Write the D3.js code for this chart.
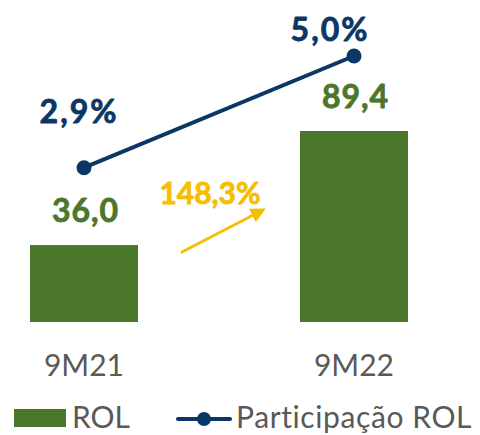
<!DOCTYPE html>
<html>
<head>
<meta charset="utf-8">
<script src="https://cdn.jsdelivr.net/npm/d3@7"></script>
<style>
  body { margin: 0; background: #fff; }
  svg { display: block; }
  text { font-family: Lato, "Open Sans", sans-serif; }
</style>
</head>
<body>
<svg id="chart" width="480" height="435"></svg>
<script>
// data
var categories = ["9M21", "9M22"];
var rol = [36.0, 89.4];
var participacao = [2.9, 5.0];
var growth = "148,3%";
var legendLabels = ["ROL", "Participação ROL"];

var green = "#4a772b", navy = "#0b3766", yellow = "#f5be00", grey = "#595959";

var ptBR = d3.formatLocale({decimal: ",", thousands: ".", grouping: [3], currency: ["R$", ""]});
var fmt = ptBR.format(".1f");

var svg = d3.select("#chart");

var x = d3.scalePoint().domain(categories).range([84, 354]);
var y = d3.scaleLinear().domain([0, 89.4]).range([322, 131]);
var y2 = d3.scaleLinear().domain([0, 5]).range([322, 56]);
var barW = 108;

var rows = categories.map(function (c, i) {
    return {cat: c, rol: rol[i], pct: participacao[i]};
});

// bold labels look heavier in the original, a thin stroke helps
function heavy(sel, col) {
    sel.attr("font-weight", 700)
        .attr("fill", col)
        .attr("stroke", col)
        .attr("stroke-width", 0.8)
        .attr("stroke-linejoin", "round");
}

// bars
svg.selectAll("rect.bar")
    .data(rows)
    .enter().append("rect")
    .attr("class", "bar")
    .attr("x", function (d) { return x(d.cat) - barW / 2; })
    .attr("y", function (d) { return y(d.rol); })
    .attr("width", barW)
    .attr("height", function (d) { return y(0) - y(d.rol); })
    .attr("fill", green);

// bar values
svg.selectAll("text.val")
    .data(rows)
    .enter().append("text")
    .attr("class", "val")
    .attr("x", function (d) { return x(d.cat) + 1.5; })
    .attr("y", function (d) { return y(d.rol) - 23; })
    .attr("text-anchor", "middle")
    .attr("font-size", 32)
    .attr("letter-spacing", 1)
    .text(function (d) { return fmt(d.rol); })
    .call(heavy, green);

// line
var line = d3.line()
    .x(function (d) { return x(d.cat); })
    .y(function (d) { return y2(d.pct); });

svg.append("path")
    .datum(rows)
    .attr("d", line)
    .attr("fill", "none")
    .attr("stroke", navy)
    .attr("stroke-width", 4);

svg.selectAll("circle.pt")
    .data(rows)
    .enter().append("circle")
    .attr("class", "pt")
    .attr("cx", function (d) { return x(d.cat); })
    .attr("cy", function (d) { return y2(d.pct); })
    .attr("r", 7.5)
    .attr("fill", navy);

// percent labels, nudged like the original
var pctDx = [-5, -24], pctDy = [-45, -15];
svg.selectAll("text.pct")
    .data(rows)
    .enter().append("text")
    .attr("class", "pct")
    .attr("x", function (d, i) { return x(d.cat) + pctDx[i]; })
    .attr("y", function (d, i) { return y2(d.pct) + pctDy[i]; })
    .attr("text-anchor", "middle")
    .attr("font-size", 32)
    .attr("letter-spacing", 2)
    .text(function (d) { return fmt(d.pct) + "%"; })
    .call(heavy, navy);

// growth arrow
var mid = (x(categories[0]) + x(categories[1])) / 2;
svg.append("defs").append("marker")
    .attr("id", "head")
    .attr("viewBox", "0 0 10 10")
    .attr("refX", 8).attr("refY", 5)
    .attr("markerWidth", 5).attr("markerHeight", 5)
    .attr("orient", "auto")
    .append("path")
    .attr("d", "M0,0L10,5L0,10Z")
    .attr("fill", yellow);

svg.append("line")
    .attr("x1", mid - 37).attr("y1", 252)
    .attr("x2", mid + 44).attr("y2", 210)
    .attr("stroke", yellow)
    .attr("stroke-width", 3)
    .attr("stroke-linecap", "round")
    .attr("marker-end", "url(#head)");

svg.append("text")
    .attr("x", mid - 9)
    .attr("y", 204)
    .attr("text-anchor", "middle")
    .attr("font-size", 30)
    .text(growth)
    .call(heavy, yellow);

// category labels
svg.selectAll("text.cat")
    .data(categories)
    .enter().append("text")
    .attr("class", "cat")
    .attr("x", function (d) { return x(d); })
    .attr("y", 376)
    .attr("text-anchor", "middle")
    .attr("font-size", 30)
    .attr("fill", grey)
    .text(function (d) { return d; });

// legend
var lg = svg.append("g");
lg.append("rect")
    .attr("x", 14).attr("y", 409)
    .attr("width", 52).attr("height", 18)
    .attr("fill", green);
lg.append("text")
    .attr("x", 72).attr("y", 428)
    .attr("font-size", 30)
    .attr("fill", grey)
    .text(legendLabels[0]);
lg.append("line")
    .attr("x1", 178).attr("x2", 230)
    .attr("y1", 419).attr("y2", 419)
    .attr("stroke", navy).attr("stroke-width", 4)
    .attr("stroke-linecap", "round");
lg.append("circle")
    .attr("cx", 204).attr("cy", 419).attr("r", 7)
    .attr("fill", navy);
lg.append("text")
    .attr("x", 236).attr("y", 428)
    .attr("font-size", 30)
    .attr("letter-spacing", 0.6)
    .attr("fill", grey)
    .text(legendLabels[1]);
</script>
</body>
</html>
